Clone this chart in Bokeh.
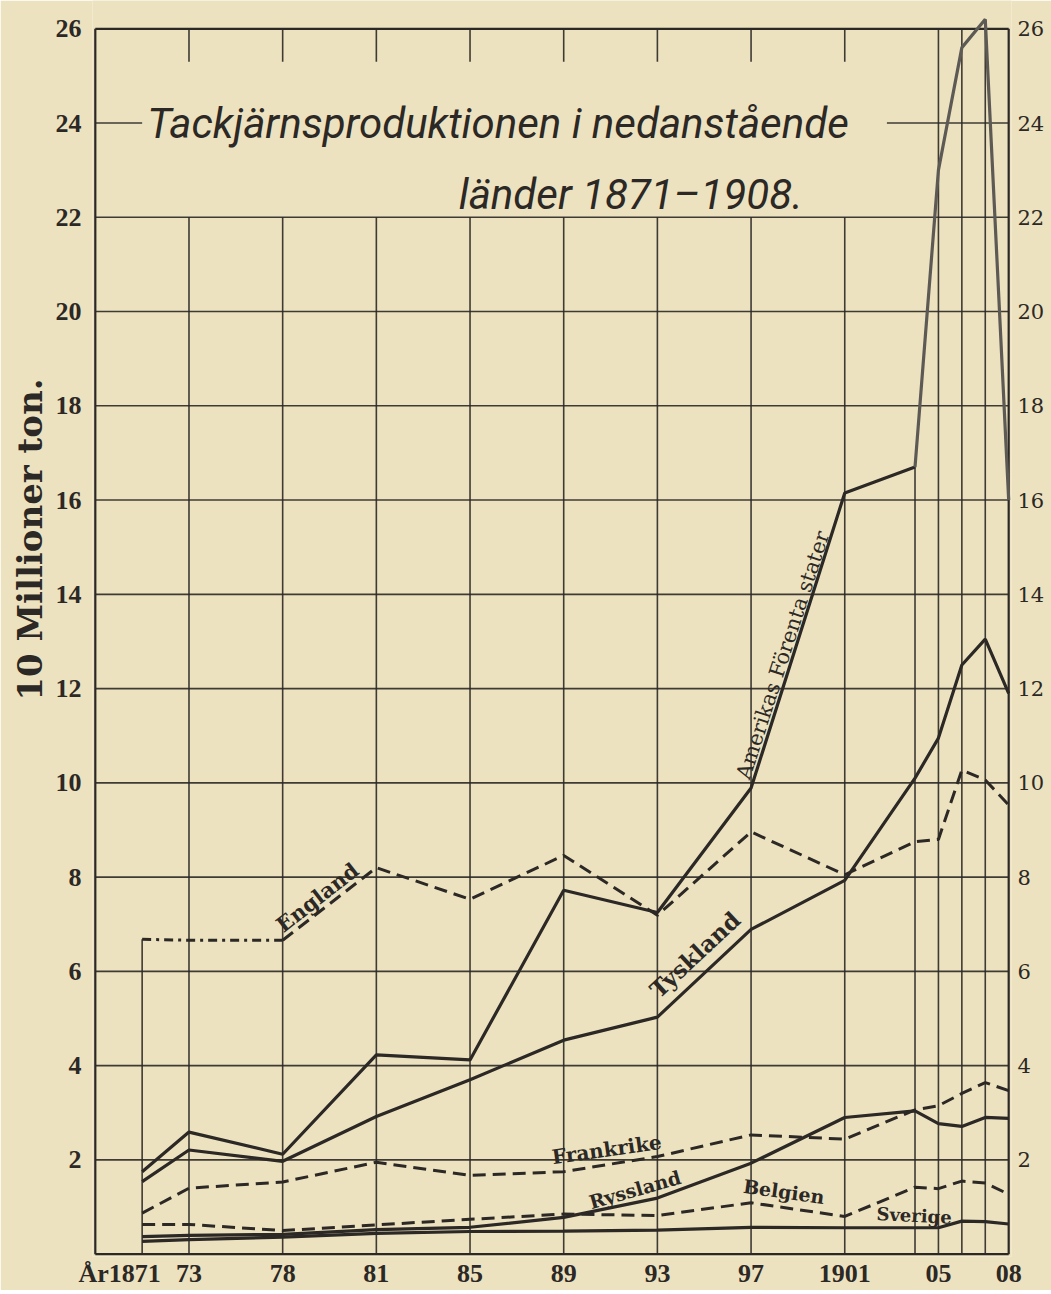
from bokeh.plotting import figure
from bokeh.models import FixedTicker, LinearAxis, Label, ColumnDataSource, Title
from bokeh.embed import file_html
from bokeh.resources import INLINE

# ---------------- data (10^6 ton) ----------------
years = [1871, 1873, 1878, 1881, 1885, 1889, 1893, 1897, 1901, 1904, 1905, 1906, 1907, 1908]
amerika = [1.75, 2.59, 2.12, 4.23, 4.12, 7.72, 7.25, 9.89, 16.15, 16.7, 23.0, 25.6, 26.2, 16.0]
tyskland = [1.54, 2.21, 1.97, 2.92, 3.70, 4.54, 5.03, 6.89, 7.93, 10.1, 10.95, 12.5, 13.05, 11.9]
england = [6.68, 6.66, 6.66, 8.20, 7.53, 8.46, 7.19, 8.96, 8.05, 8.75, 8.80, 10.27, 10.06, 9.53]
frankrike = [0.87, 1.40, 1.53, 1.95, 1.67, 1.75, 2.07, 2.53, 2.44, 3.06, 3.15, 3.41, 3.64, 3.47]
belgien = [0.63, 0.63, 0.50, 0.62, 0.74, 0.85, 0.82, 1.09, 0.80, 1.42, 1.39, 1.55, 1.51, 1.27]
ryssland = [0.37, 0.40, 0.42, 0.52, 0.57, 0.78, 1.19, 1.93, 2.90, 3.04, 2.77, 2.71, 2.90, 2.88]
sverige = [0.27, 0.31, 0.36, 0.44, 0.48, 0.49, 0.51, 0.57, 0.56, 0.56, 0.56, 0.70, 0.69, 0.64]

x_tick_years = [1871, 1873, 1878, 1881, 1885, 1889, 1893, 1897, 1901, 1905, 1908]
x_tick_labels = ["År1871", "73", "78", "81", "85", "89", "93", "97", "1901", "05", "08"]
y_ticks = [2, 4, 6, 8, 10, 12, 14, 16, 18, 20, 22, 24, 26]

title_1 = "Tackjärnsproduktionen i nedanstående"
title_2 = "länder 1871–1908."
y_title = "10 Millioner ton."

# ---------------- the original's year axis (column units) ----------------
main_cols = [1873, 1878, 1881, 1885, 1889, 1893, 1897, 1901]


def slot(year):
    if year in main_cols:
        return 1.0 + main_cols.index(year)
    if year < 1873:
        return 1.0 - (1873 - year) / 4.0
    return 8.0 + (year - 1901) / 4.0


xs = [slot(y) for y in years]
X_END = slot(1908)

BG = "#ede2bf"
INK = "#2b2825"

p = figure(width=1051, height=1290, x_range=(-0.03, X_END + 0.03), y_range=(-0.05, 26.6),
           output_backend="svg", toolbar_location=None,
           min_border_left=92, min_border_right=40, min_border_top=0, min_border_bottom=0,
           background_fill_color=BG, border_fill_color=BG, outline_line_color=None)
p.xgrid.visible = False
p.ygrid.visible = False

# ---------------- grid & frame ----------------
gx0, gy0, gx1, gy1 = [], [], [], []
for yy in y_ticks:
    if yy <= 22:
        gx0.append(0); gx1.append(X_END); gy0.append(yy); gy1.append(yy)
gx0 += [0, slot(1901) + 0.45]; gx1 += [slot(1871), X_END]; gy0 += [24, 24]; gy1 += [24, 24]
for yr in main_cols:
    s = slot(yr)
    gx0 += [s, s]; gx1 += [s, s]; gy0 += [0, 25.3]; gy1 += [22, 26]
for yr in [1905, 1906, 1907]:
    s = slot(yr)
    gx0.append(s); gx1.append(s); gy0.append(0); gy1.append(26)
i1904 = years.index(1904)
gx0.append(slot(1904)); gx1.append(slot(1904)); gy0.append(0); gy1.append(amerika[i1904])
gx0.append(slot(1871)); gx1.append(slot(1871)); gy0.append(0); gy1.append(england[0])
p.segment(x0=gx0, y0=gy0, x1=gx1, y1=gy1, line_color=INK, line_width=1.6, line_alpha=0.9)

fx0 = [0, 0, 0, X_END]
fx1 = [X_END, X_END, 0, X_END]
fy0 = [0, 26, 0, 0]
fy1 = [0, 26, 26, 26]
p.segment(x0=fx0, y0=fy0, x1=fx1, y1=fy1, line_color=INK, line_width=2.2)

# ---------------- series ----------------
src = ColumnDataSource(dict(x=xs, am=amerika, ty=tyskland, en=england, fr=frankrike,
                            be=belgien, ry=ryssland, sv=sverige))
k = years.index(1904)
p.line(xs[:k + 1], amerika[:k + 1], line_color=INK, line_width=3.2)
p.line(xs[k:], amerika[k:], line_color="#5d5a55", line_width=3.2)
p.line("x", "ty", source=src, line_color=INK, line_width=3.2)
k78 = years.index(1878)
p.line(xs[:k78 + 1], england[:k78 + 1], line_color=INK, line_width=3, line_dash="9 5 3 5")
p.line(xs[k78:], england[k78:], line_color=INK, line_width=3, line_dash="13 7")
p.line("x", "fr", source=src, line_color=INK, line_width=3, line_dash="13 7")
p.line("x", "be", source=src, line_color=INK, line_width=3, line_dash="13 7")
p.line("x", "ry", source=src, line_color=INK, line_width=3.2)
p.line("x", "sv", source=src, line_color=INK, line_width=3.2)

# ---------------- axes ----------------
x_tick_pos = [slot(y) for y in x_tick_years]
x_tick_pos[0] = slot(1871) - 0.24          # the original writes "År1871" left of its line
p.xaxis.ticker = FixedTicker(ticks=x_tick_pos)
p.xaxis.major_label_overrides = {t: lab for t, lab in zip(x_tick_pos, x_tick_labels)}
p.yaxis.ticker = FixedTicker(ticks=y_ticks)
for ax in [p.xaxis[0], p.yaxis[0]]:
    ax.axis_line_color = None
    ax.major_tick_line_color = None
    ax.minor_tick_line_color = None
    ax.major_tick_out = 0
    ax.major_label_text_color = INK
    ax.major_label_text_font = "Liberation Serif"
    ax.major_label_text_font_style = "bold"
p.xaxis.major_label_text_font_size = "26px"
p.xaxis.major_label_standoff = 2
p.yaxis.major_label_text_font_size = "26px"
p.yaxis.major_label_standoff = 11

ry_ax = LinearAxis(ticker=FixedTicker(ticks=y_ticks), axis_line_color=None,
                   major_tick_line_color=None, minor_tick_line_color=None, major_tick_out=0,
                   major_label_text_font="DejaVu Serif", major_label_text_font_size="21px",
                   major_label_text_color=INK, major_label_standoff=6)
p.add_layout(ry_ax, "right")

p.add_layout(Title(text=y_title, align="right", offset=378, text_font="DejaVu Serif",
                   text_font_size="34px", text_font_style="bold", text_color=INK,
                   standoff=4, vertical_align="middle"), "left")

# ---------------- texts ----------------
def lab(x, y, text, size, font="DejaVu Serif", style="normal", angle=0, align="center",
        baseline="middle"):
    p.add_layout(Label(x=x, y=y, text=text, text_font=font, text_font_size=size,
                       text_font_style=style, text_color=INK, angle=angle, angle_units="deg",
                       text_align=align, text_baseline=baseline))

lab(0.555, 23.99, title_1, "42px", font="Roboto", style="italic",
    align="left", baseline="alphabetic")
lab(3.88, 22.49, title_2, "42px", font="Roboto", style="italic",
    align="left", baseline="alphabetic")

lab(2.37, 7.57, "England", "21px", style="bold", angle=38)
lab(6.40, 6.36, "Tyskland", "23px", style="bold", angle=43)
lab(7.34, 12.71, "Amerikas Förenta stater", "21px", angle=72)
lab(5.46, 2.22, "Frankrike", "20px", style="bold", angle=8)
lab(5.76, 1.37, "Ryssland", "19px", style="bold", angle=16)
lab(7.35, 1.33, "Belgien", "19px", style="bold", angle=-8)
lab(8.74, 0.82, "Sverige", "18px", style="bold", angle=-3)

open("out.html", "w").write(file_html(p, INLINE))
